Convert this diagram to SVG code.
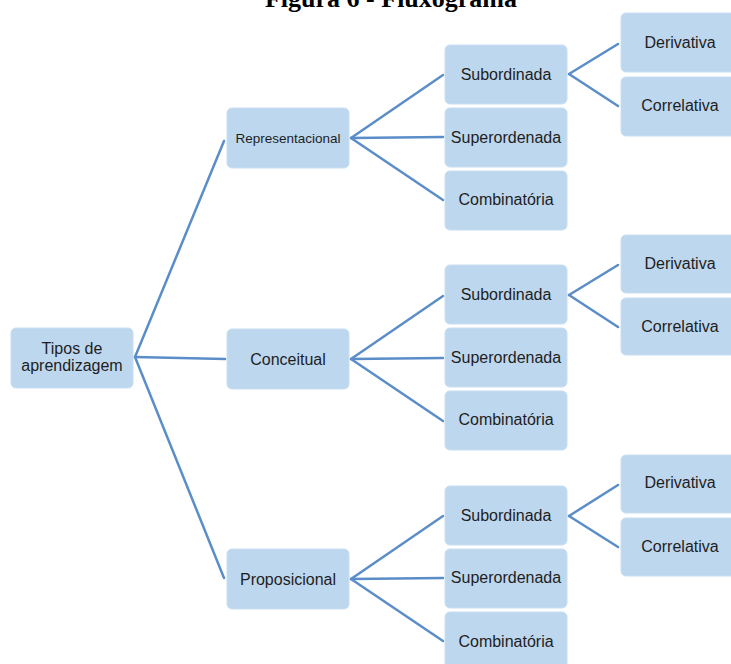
<svg xmlns="http://www.w3.org/2000/svg" width="731" height="664" viewBox="0 0 731 664">
<style>
.box{fill:#bdd7ee;stroke:#c9def1;stroke-width:1}
.t{font-family:"Liberation Sans",Arial,sans-serif;font-size:16px;fill:#1e1e1e;text-anchor:middle}
.small{font-size:13.5px}
.title{font-family:"Liberation Serif","Times New Roman",serif;font-size:26px;font-weight:bold;fill:#000;text-anchor:middle}
.c line{stroke:#5b8dc9;stroke-width:2.5;stroke-linecap:round}
</style>
<rect width="731" height="664" fill="#fff"/>
<text class="title" x="391" y="7">Figura 6 - Fluxograma</text>
<g class="c" id="connectors">
<line x1="135" y1="357" x2="224" y2="141"/>
<line x1="135" y1="357" x2="225" y2="359"/>
<line x1="135" y1="357" x2="224" y2="578"/>
<line x1="351" y1="138" x2="443" y2="75"/>
<line x1="351" y1="138" x2="443" y2="137"/>
<line x1="351" y1="138" x2="443" y2="200"/>
<line x1="351" y1="359" x2="443" y2="296"/>
<line x1="351" y1="359" x2="443" y2="358"/>
<line x1="351" y1="359" x2="443" y2="421"/>
<line x1="351" y1="579" x2="443" y2="516"/>
<line x1="351" y1="579" x2="443" y2="578"/>
<line x1="351" y1="579" x2="443" y2="641"/>
<line x1="569" y1="74" x2="618" y2="44"/>
<line x1="569" y1="74" x2="618" y2="106"/>
<line x1="569" y1="295" x2="618" y2="265"/>
<line x1="569" y1="295" x2="618" y2="327"/>
<line x1="569" y1="516" x2="618" y2="485"/>
<line x1="569" y1="516" x2="618" y2="547"/>
</g>
<g id="n-tipos"><rect class="box" x="11" y="328" width="122" height="60" rx="5"/><text class="t" x="72" y="354">Tipos de</text><text class="t" x="72" y="371">aprendizagem</text></g>
<g id="n-rep"><rect class="box" x="227" y="108" width="122" height="60" rx="5"/><text class="t small" x="288" y="143">Representacional</text></g>
<g id="n-conc"><rect class="box" x="227" y="329" width="122" height="60" rx="5"/><text class="t" x="288" y="365">Conceitual</text></g>
<g id="n-prop"><rect class="box" x="227" y="549" width="122" height="60" rx="5"/><text class="t" x="288" y="585">Proposicional</text></g>

<g id="n-sub1"><rect class="box" x="445" y="45" width="122" height="59" rx="5"/><text class="t" x="506" y="80">Subordinada</text></g>
<g id="n-sup1"><rect class="box" x="445" y="108" width="122" height="59" rx="5"/><text class="t" x="506" y="143">Superordenada</text></g>
<g id="n-com1"><rect class="box" x="445" y="171" width="122" height="59" rx="5"/><text class="t" x="506" y="205">Combinatória</text></g>
<g id="n-der1"><rect class="box" x="621" y="13" width="122" height="59" rx="5"/><text class="t" x="680" y="48">Derivativa</text></g>
<g id="n-cor1"><rect class="box" x="621" y="77" width="122" height="59" rx="5"/><text class="t" x="680" y="111">Correlativa</text></g>

<g id="n-sub2"><rect class="box" x="445" y="265" width="122" height="59" rx="5"/><text class="t" x="506" y="300">Subordinada</text></g>
<g id="n-sup2"><rect class="box" x="445" y="328" width="122" height="59" rx="5"/><text class="t" x="506" y="363">Superordenada</text></g>
<g id="n-com2"><rect class="box" x="445" y="391" width="122" height="59" rx="5"/><text class="t" x="506" y="425">Combinatória</text></g>
<g id="n-der2"><rect class="box" x="621" y="235" width="122" height="58" rx="5"/><text class="t" x="680" y="269">Derivativa</text></g>
<g id="n-cor2"><rect class="box" x="621" y="298" width="122" height="57" rx="5"/><text class="t" x="680" y="332">Correlativa</text></g>

<g id="n-sub3"><rect class="box" x="445" y="486" width="122" height="59" rx="5"/><text class="t" x="506" y="521">Subordinada</text></g>
<g id="n-sup3"><rect class="box" x="445" y="549" width="122" height="59" rx="5"/><text class="t" x="506" y="583">Superordenada</text></g>
<g id="n-com3"><rect class="box" x="445" y="612" width="122" height="59" rx="5"/><text class="t" x="506" y="647">Combinatória</text></g>
<g id="n-der3"><rect class="box" x="621" y="455" width="122" height="58" rx="5"/><text class="t" x="680" y="488">Derivativa</text></g>
<g id="n-cor3"><rect class="box" x="621" y="518" width="122" height="58" rx="5"/><text class="t" x="680" y="552">Correlativa</text></g>
</svg>
